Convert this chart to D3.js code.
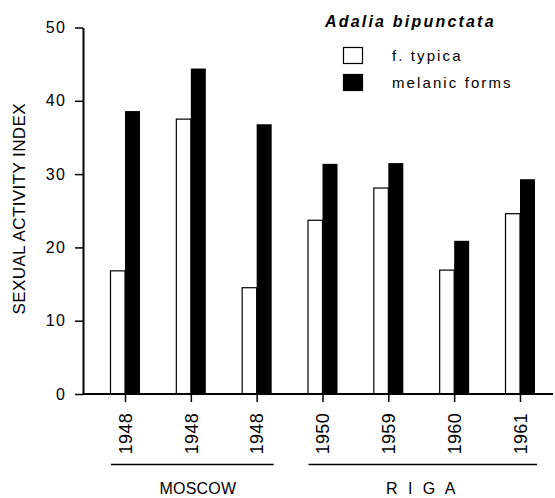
<!DOCTYPE html>
<html>
<head>
<meta charset="utf-8">
<script src="https://cdn.jsdelivr.net/npm/d3@7"></script>
<style>
  body { margin: 0; background: #fff; }
  text { font-family: "Liberation Sans", Arial, sans-serif; fill: #000; }
</style>
</head>
<body>
<div class="chart"></div>
<script>
// data
var years = ["1948", "1948", "1948", "1950", "1959", "1960", "1961"];
var typica = [16.8, 37.5, 14.5, 23.7, 28.1, 16.9, 24.6];
var melanic = [38.6, 44.4, 36.8, 31.4, 31.5, 20.9, 29.3];
var cities = ["MOSCOW", "R I G A"];
var cityOf = [0, 0, 0, 1, 1, 1, 1];
var yTicks = [0, 10, 20, 30, 40, 50];

var margin = {top: 27.5, right: 2, bottom: 104, left: 83},
    width = 555 - margin.left - margin.right,
    height = 498 - margin.top - margin.bottom,
    barW = 14.5;

var svg = d3.select(".chart")
  .append("svg")
    .attr("width", width + margin.left + margin.right)
    .attr("height", height + margin.top + margin.bottom)
  .append("g")
    .attr("transform", "translate(" + margin.left + "," + margin.top + ")");

var x = d3.scalePoint()
    .domain(d3.range(years.length))
    .range([42, 437]);

var y = d3.scaleLinear()
    .domain([0, 50])
    .range([height, 0]);

// bars
var groups = svg.selectAll(".grp")
  .data(d3.range(years.length))
  .enter().append("g")
    .attr("class", "grp");

groups.append("rect")
    .attr("x", function(i) { return x(i) - barW; })
    .attr("y", function(i) { return y(typica[i]); })
    .attr("width", barW)
    .attr("height", function(i) { return y(0) - y(typica[i]); })
    .attr("fill", "#fff")
    .attr("stroke", "#000")
    .attr("stroke-width", 1.2);

groups.append("rect")
    .attr("x", function(i) { return x(i); })
    .attr("y", function(i) { return y(melanic[i]); })
    .attr("width", barW + 0.5)
    .attr("height", function(i) { return y(0) - y(melanic[i]); })
    .attr("fill", "#000");

// y axis
var yaxis = d3.axisLeft(y)
    .tickValues(yTicks)
    .tickSize(8)
    .tickSizeOuter(0)
    .tickPadding(10);

var gy = svg.append("g")
    .attr("class", "y axis")
    .call(yaxis);
gy.select(".domain").attr("stroke-width", 2);
gy.selectAll(".tick line").attr("stroke-width", 1.5);
gy.selectAll(".tick text")
    .style("font-size", "16px")
    .style("letter-spacing", "1.5px")
    .attr("dx", "1.5px");

// x axis
var xaxis = d3.axisBottom(x)
    .tickSize(8)
    .tickFormat(function(i) { return years[i]; });

var gx = svg.append("g")
    .attr("class", "x axis")
    .attr("transform", "translate(0," + height + ")")
    .call(xaxis);
gx.select(".domain").remove();
gx.selectAll(".tick line").attr("stroke-width", 1.5);
gx.selectAll(".tick text")
    .style("font-size", "18px")
    .style("letter-spacing", "0.3px")
    .attr("text-anchor", "end")
    .attr("transform", "rotate(-90)")
    .attr("x", -19)
    .attr("y", 0)
    .attr("dy", "0.35em");

gx.append("line")
    .attr("x1", 0)
    .attr("x2", width)
    .attr("stroke", "#000")
    .attr("stroke-width", 2);

// city brackets
cities.forEach(function(c, k) {
  var idx = d3.range(years.length).filter(function(i) { return cityOf[i] === k; });
  var x0 = x(idx[0]) - 14, x1 = x(idx[idx.length - 1]) + 17;
  svg.append("line")
      .attr("x1", x0)
      .attr("x2", x1)
      .attr("y1", height + 70.5)
      .attr("y2", height + 70.5)
      .attr("stroke", "#000")
      .attr("stroke-width", 1.5);
  svg.append("text")
      .attr("x", (x(idx[0]) + x(idx[idx.length - 1])) / 2 + (k === 0 ? 7 : 1))
      .attr("y", height + 100)
      .attr("text-anchor", "middle")
      .style("font-size", "16px")
      .style("letter-spacing", k === 0 ? "0.2px" : "3px")
      .text(c);
});

// y label
svg.append("text")
    .attr("transform", "rotate(-90)")
    .attr("x", -height / 2 + 2)
    .attr("y", -58)
    .attr("text-anchor", "middle")
    .style("font-size", "17px")
    .style("letter-spacing", "0.4px")
    .text("SEXUAL ACTIVITY INDEX");

// legend
var legend = svg.append("g")
    .attr("transform", "translate(" + (343 - margin.left) + "," + (0 - margin.top) + ")");

legend.append("text")
    .attr("x", -18)
    .attr("y", 27)
    .style("font-size", "16px")
    .style("font-style", "italic")
    .style("font-weight", "bold")
    .style("letter-spacing", "2.2px")
    .text("Adalia bipunctata");

var items = [["f. typica", "#fff"], ["melanic forms", "#000"]];
items.forEach(function(it, k) {
  legend.append("rect")
      .attr("x", 0.5)
      .attr("y", 47.5 + k * 27)
      .attr("width", 19)
      .attr("height", 16)
      .attr("fill", it[1])
      .attr("stroke", "#000")
      .attr("stroke-width", 1.2);
  legend.append("text")
      .attr("x", 49)
      .attr("y", 61 + k * 27)
      .style("font-size", "15px")
      .style("letter-spacing", "2.1px")
      .text(it[0]);
});
</script>
</body>
</html>
